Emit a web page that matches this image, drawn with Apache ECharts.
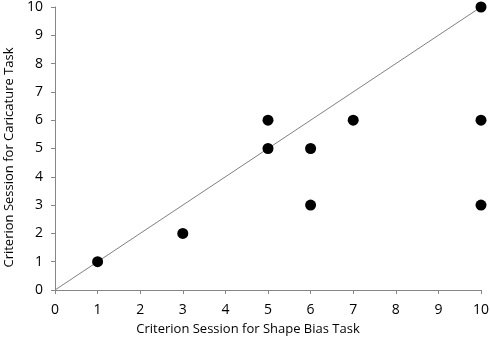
<!DOCTYPE html>
<html><head><meta charset="utf-8">
<script src="https://cdn.jsdelivr.net/npm/echarts@6/dist/echarts.min.js"></script>
<style>html,body{margin:0;padding:0;background:#fff}#c{width:490px;height:339px}</style>
</head><body><div id="c"></div>
<script>
const xVals = [1, 3, 5, 5, 6, 6, 7, 10, 10, 10];
const yVals = [1, 2, 6, 5, 5, 3, 6, 10, 6, 3];
const lineX = [0, 10];
const lineY = [0, 10];
const xTitle = 'Criterion Session for Shape Bias Task';
const yTitle = 'Criterion Session for Caricature Task';

const font = 'Open Sans';
const chart = echarts.init(document.getElementById('c'), null, {renderer: 'canvas'});
const axisCommon = {
  min: 0, max: 10, interval: 1,
  axisLine: {show: true, lineStyle: {color: '#868686', width: 1}},
  axisTick: {show: true, inside: false, length: 4, lineStyle: {color: '#868686'}},
  splitLine: {show: false},
  axisLabel: {color: '#000', fontSize: 14, fontFamily: font},
  nameLocation: 'middle'
};
chart.setOption({
  animation: false,
  grid: {left: 55, right: 9, top: 7, bottom: 49, containLabel: false, outerBoundsMode: 'none'},
  xAxis: Object.assign({}, axisCommon, {type: 'value', name: xTitle, nameGap: 33,
    nameTextStyle: {color: '#000', fontSize: 13, fontFamily: font, padding: [0, 40, 0, 0]},
    axisLabel: Object.assign({}, axisCommon.axisLabel, {margin: 13})}),
  yAxis: Object.assign({}, axisCommon, {type: 'value', name: yTitle, nameGap: 36,
    nameTextStyle: {color: '#000', fontSize: 13, fontFamily: font, padding: [0, 18, 0, 0]},
    axisLabel: Object.assign({}, axisCommon.axisLabel, {margin: 12})}),
  series: [
    {type: 'line', data: lineX.map((x, i) => [x, lineY[i]]), symbol: 'none',
     lineStyle: {color: '#808080', width: 1}, z: 1},
    {type: 'scatter', data: xVals.map((x, i) => [x, yVals[i]]), symbol: 'circle', symbolSize: 11,
     itemStyle: {color: '#000', opacity: 1}, z: 2}
  ]
});
</script></body></html>
